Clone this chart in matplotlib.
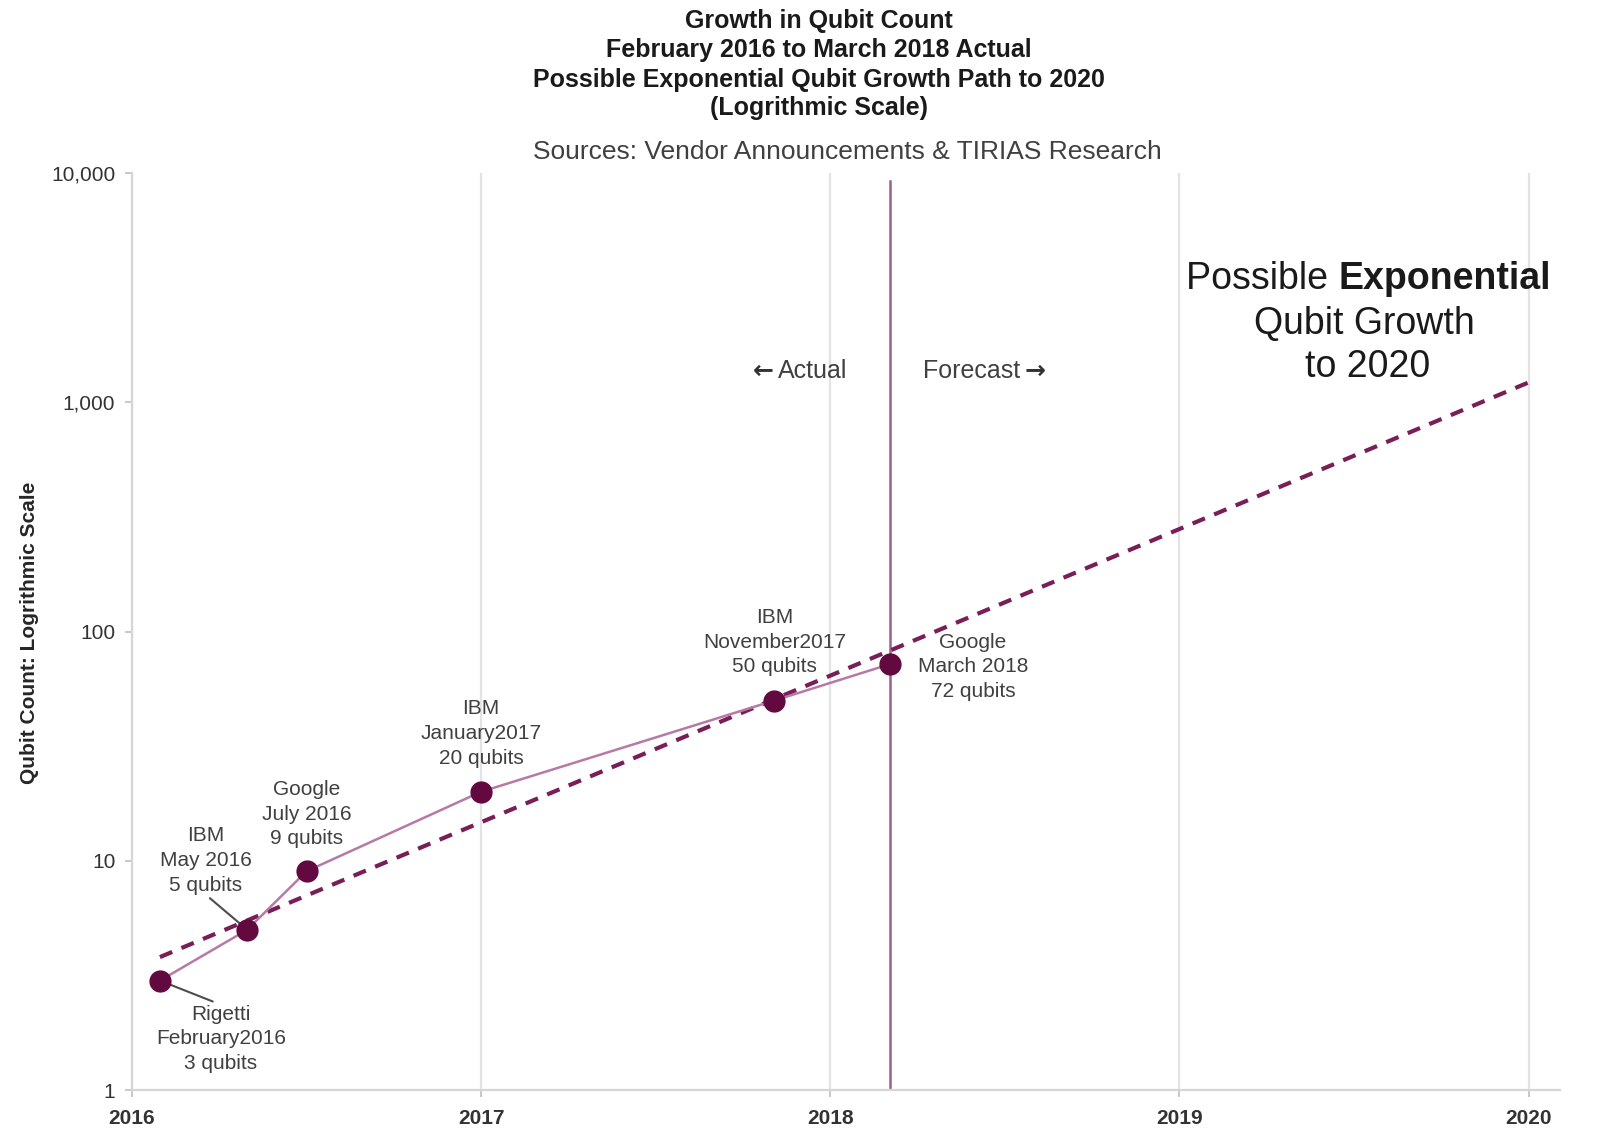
import matplotlib
matplotlib.use("Agg")
import matplotlib.pyplot as plt
from matplotlib.ticker import NullLocator

plt.rcParams['font.family'] = ['Liberation Sans', 'DejaVu Sans']

# ---------------- data ----------------
years = [2016.08, 2016.33, 2016.50, 2017.00, 2017.84, 2018.17]
qubits = [3, 5, 9, 20, 50, 72]
point_labels = [
    "Rigetti\nFebruary2016\n3 qubits",
    "IBM\nMay 2016\n5 qubits",
    "Google\nJuly 2016\n9 qubits",
    "IBM\nJanuary2017\n20 qubits",
    "IBM\nNovember2017\n50 qubits",
    "Google\nMarch 2018\n72 qubits",
]
forecast_years = [2016.08, 2020.0]
forecast_qubits = [3.8, 1220]
year_ticks = [2016, 2017, 2018, 2019, 2020]
year_labels = ["2016", "2017", "2018", "2019", "2020"]
count_ticks = [1, 10, 100, 1000, 10000]
count_labels = ["1", "10", "100", "1,000", "10,000"]

# ---------------- layout (label offsets in points) ----------------
label_offsets = [(44, -42), (-30, 50), (0, 41), (0, 42), (0, 42), (60, -2)]
leader_relpos = [(0.5, 1.0), (0.5, 0.0), None, None, None, None]

W, H = 1623, 1129
fig = plt.figure(figsize=(W / 100, H / 100), dpi=100)
ax = fig.add_axes([132 / W, 1 - 1090 / H, (1560 - 132) / W, (1090 - 173) / H])
ax.set_yscale('log')
ax.set_ylim(1, 10000)
ax.set_xlim(2016, 2020.09)

# grid & spines
ax.grid(axis='x', color='#E3E3E3', lw=1.6)
ax.grid(axis='y', visible=False)
ax.set_axisbelow(True)
for s in ['top', 'right']:
    ax.spines[s].set_visible(False)
for s in ['left', 'bottom']:
    ax.spines[s].set_color('#D6D6D6')
    ax.spines[s].set_linewidth(1.6)

ax.set_yticks(count_ticks, labels=count_labels, fontsize=15, color='#333333')
ax.set_xticks(year_ticks, labels=year_labels, fontsize=15, fontweight='bold', color='#333333')
ax.yaxis.set_minor_locator(NullLocator())
ax.tick_params(axis='y', which='major', color='#BFBFBF', length=5, width=1.2, pad=7)
ax.tick_params(axis='x', which='major', color='#BFBFBF', length=5, width=1.2, pad=9)

# forecast/actual divider
ax.axvline(years[-1], ymin=0, ymax=0.991, color='#9E5F8F', lw=1.8, zorder=2)

# exponential forecast path
ax.plot(forecast_years, forecast_qubits, color='#7A1E58', lw=3.0,
        dashes=(3.2, 2.4), zorder=3, solid_capstyle='butt')

# actual path
ax.plot(years, qubits, color='#B67AA6', lw=1.8, zorder=4)
ax.plot(years, qubits, linestyle='none', marker='o', markersize=15,
        markerfacecolor='#62093F', markeredgecolor='#62093F', zorder=6)

# point labels
for x, y, lab, off, rp in zip(years, qubits, point_labels, label_offsets, leader_relpos):
    kw = {}
    if rp is not None:
        kw['arrowprops'] = dict(arrowstyle='-', color='#4D4D4D', lw=1.5,
                                relpos=rp, shrinkA=1, shrinkB=0)
    ax.annotate(lab, xy=(x, y), xytext=off, textcoords='offset points',
                ha='center', va='center', multialignment='center',
                fontsize=15, linespacing=1.38, color='#404040', zorder=5, **kw)

# titles
title_lines = ["Growth in Qubit Count",
               "February 2016 to March 2018 Actual",
               "Possible Exponential Qubit Growth Path to 2020",
               "(Logrithmic Scale)"]
for t, yc in zip(title_lines, [21, 50, 80, 108]):
    fig.text(819 / W, 1 - yc / H, t, ha='center', va='center',
             fontsize=18, fontweight='bold', color='#1A1A1A')

fig.text(847 / W, 1 - 152 / H, "Sources: Vendor Announcements & TIRIAS Research",
         ha='center', va='center', fontsize=19, color='#404040')

fig.text(30 / W, 1 - 633 / H, "Qubit Count: Logrithmic Scale", rotation=90,
         ha='center', va='center', fontsize=15, fontweight='bold', color='#262626')

# Actual / Forecast labels with heavy arrows
t_act = fig.text(813 / W, 1 - 371 / H, "Actual", ha='center', va='center',
                 fontsize=18, color='#404040')
ax.annotate("\u2190", xy=(0, 0.5), xycoords=t_act, xytext=(-3, 0),
            textcoords='offset points', ha='right', va='center', fontsize=18,
            fontweight='bold', family='DejaVu Sans', color='#333333',
            annotation_clip=False)
t_fc = fig.text(972 / W, 1 - 371 / H, "Forecast", ha='center', va='center',
                fontsize=18, color='#404040')
ax.annotate("\u2192", xy=(1, 0.5), xycoords=t_fc, xytext=(3, 0),
            textcoords='offset points', ha='left', va='center', fontsize=18,
            fontweight='bold', family='DejaVu Sans', color='#333333',
            annotation_clip=False)

# Big annotation
t1 = fig.text(1186 / W, 1 - 279 / H, "Possible ", ha='left', va='center',
              fontsize=27, color='#1A1A1A')
ax.annotate("Exponential", xy=(1, 0.5), xycoords=t1, ha='left', va='center',
            fontsize=27, fontweight='bold', color='#1A1A1A', annotation_clip=False)
fig.text(1364 / W, 1 - 324 / H, "Qubit Growth", ha='center', va='center',
         fontsize=27, color='#1A1A1A')
fig.text(1368 / W, 1 - 367 / H, "to 2020", ha='center', va='center',
         fontsize=27, color='#1A1A1A')

fig.savefig("out.png", dpi=100)
